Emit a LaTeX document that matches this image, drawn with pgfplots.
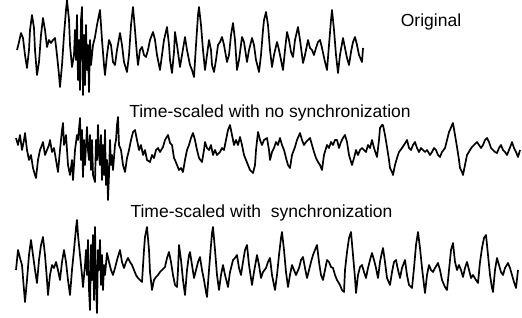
\documentclass[border=0pt]{standalone}
\usepackage{pgfplots}
\pgfplotsset{compat=1.18}
\usepackage{fontspec}
\setmainfont{Liberation Sans}
\begin{document}
\begin{tikzpicture}
\begin{axis}[
  at={(0,0)}, anchor=south west,
  width=522pt, height=317pt, scale only axis,
  xmin=0, xmax=522, ymin=0, ymax=317, y dir=reverse,
  axis lines=none, clip=false,
]
% Original
\addplot[black, line width=1.7pt, line join=round, mark=none] coordinates {
(17,50)(19,42)(21,33)(23,38)(25,55)(27,68)(29,50)(30,30)(32,15)(34,28)(35,50)(37,75)(39,62)(41,35)(43,18)(45,30)(47,47)(49,40)(51,43)(53,40)(55,38)(57,55)(59,75)(60,87)(62,65)(64,35)(66,10)(67,0)(69,20)(70,45)(72,67)(74,55)(75,30)(76,60)(77,15)(78,80)(79,40)(80,90)(81,20)(82,7)(83,95)(84,35)(85,85)(86,25)(87,70)(88,45)(89,92)(90,40)(91,65)(92,55)(93,45)(95,37)(97,25)(100,10)(102,40)(104,65)(105,75)(107,55)(109,40)(111,45)(113,62)(115,65)(117,50)(120,33)(122,45)(124,62)(127,72)(129,55)(131,25)(133,7)(135,30)(137,55)(138,65)(140,50)(142,47)(144,55)(146,57)(148,50)(150,40)(153,32)(155,40)(157,55)(160,70)(162,55)(164,40)(167,27)(169,45)(170,60)(172,73)(174,52)(175,32)(177,45)(180,67)(182,55)(185,37)(187,50)(190,65)(192,70)(194,77)(196,45)(198,15)(199,7)(201,25)(203,50)(205,70)(207,55)(209,40)(211,50)(212,65)(214,72)(216,60)(218,45)(220,42)(222,37)(224,45)(227,62)(229,55)(231,35)(233,23)(235,40)(237,70)(239,60)(242,37)(244,42)(247,62)(249,50)(252,38)(254,45)(256,60)(259,72)(261,55)(263,30)(264,20)(266,12)(268,25)(270,50)(272,67)(274,55)(277,42)(279,50)(281,60)(283,70)(285,50)(287,32)(289,40)(291,52)(293,57)(295,40)(298,27)(300,40)(303,63)(305,55)(308,40)(310,48)(312,50)(314,55)(316,48)(318,42)(320,40)(322,48)(325,62)(327,70)(329,45)(331,20)(332,10)(334,30)(336,55)(338,73)(340,55)(343,38)(345,48)(347,58)(349,65)(351,52)(353,42)(355,37)(357,45)(359,55)(362,62)(363,48)
};
% Time-scaled, no synchronization
\addplot[black, line width=1.7pt, line join=round, mark=none] coordinates {
(16,138)(18,145)(20,135)(22,150)(24,140)(25,133)(27,150)(29,160)(31,155)(33,168)(35,175)(36,178)(38,160)(40,150)(42,145)(43,142)(45,155)(47,150)(49,145)(50,140)(52,152)(54,148)(56,160)(58,172)(60,150)(62,130)(63,123)(64,145)(66,135)(68,165)(70,175)(72,160)(73,180)(75,150)(77,135)(78,140)(80,118)(81,160)(82,130)(83,177)(84,140)(85,165)(87,127)(88,150)(89,160)(90,135)(91,170)(92,140)(93,175)(95,182)(96,140)(97,160)(98,125)(99,155)(100,165)(101,135)(102,180)(103,145)(104,175)(105,130)(106,185)(107,160)(108,200)(109,175)(110,140)(111,165)(112,155)(113,170)(115,145)(116,140)(117,125)(118,117)(119,145)(121,150)(123,165)(125,172)(127,158)(129,150)(131,140)(133,132)(135,130)(137,140)(139,150)(141,145)(143,155)(145,150)(147,160)(150,162)(152,155)(154,158)(156,150)(158,148)(160,152)(163,147)(165,140)(168,135)(170,143)(172,145)(174,158)(175,160)(177,165)(179,170)(181,168)(183,172)(185,160)(187,150)(189,145)(191,138)(193,133)(195,140)(197,150)(199,158)(202,162)(204,150)(205,142)(207,148)(209,150)(211,145)(213,155)(215,150)(217,155)(220,152)(222,148)(224,150)(226,140)(228,130)(230,125)(232,135)(234,145)(236,140)(238,145)(240,137)(242,145)(244,155)(246,160)(248,165)(250,170)(253,173)(255,165)(256,150)(258,132)(260,140)(262,145)(264,140)(267,138)(269,150)(270,160)(272,152)(274,148)(276,142)(278,145)(280,138)(282,145)(284,150)(286,158)(288,165)(290,168)(292,155)(295,147)(297,140)(300,133)(302,140)(304,145)(306,142)(308,140)(310,138)(312,145)(314,152)(316,158)(318,162)(320,165)(322,170)(324,155)(327,145)(329,148)(331,142)(333,145)(335,140)(337,140)(339,148)(341,142)(343,138)(345,135)(347,142)(349,155)(352,165)(354,158)(356,150)(358,155)(360,150)(362,148)(364,150)(366,152)(368,145)(370,148)(372,140)(374,148)(377,157)(379,140)(380,128)(382,125)(383,125)(385,135)(387,147)(389,160)(390,168)(392,172)(393,175)(395,165)(397,158)(399,152)(402,148)(404,145)(407,140)(409,148)(411,150)(413,145)(415,142)(417,148)(419,152)(421,148)(423,150)(425,152)(427,150)(430,155)(432,152)(434,148)(436,150)(438,155)(440,157)(442,152)(445,148)(447,140)(449,132)(450,130)(452,125)(453,123)(455,135)(457,147)(459,160)(460,168)(462,172)(463,175)(465,165)(467,155)(470,150)(472,147)(474,145)(477,142)(479,145)(481,148)(483,145)(485,140)(487,138)(489,142)(491,148)(493,150)(495,152)(497,153)(499,148)(501,145)(503,150)(505,152)(507,155)(509,150)(511,145)(512,142)(514,148)(516,152)(518,157)(520,150)
};
% Time-scaled with synchronization
\addplot[black, line width=1.7pt, line join=round, mark=none] coordinates {
(16,270)(18,250)(20,258)(22,265)(24,290)(25,302)(27,280)(29,255)(31,240)(33,255)(35,270)(37,283)(39,260)(41,245)(43,237)(45,255)(47,280)(48,295)(50,275)(52,265)(54,268)(56,262)(58,270)(60,280)(62,262)(64,250)(66,262)(68,280)(70,295)(72,270)(74,250)(76,228)(77,220)(78,235)(80,255)(82,275)(83,287)(85,265)(86,250)(87,275)(88,240)(89,290)(90,310)(91,245)(92,280)(93,235)(94,300)(95,227)(96,285)(97,313)(98,250)(99,270)(100,240)(101,285)(102,255)(103,290)(104,265)(105,275)(107,253)(109,262)(111,270)(113,275)(115,268)(117,260)(120,250)(122,262)(124,268)(126,262)(128,258)(130,262)(132,265)(134,270)(136,275)(138,278)(140,280)(142,282)(144,250)(145,237)(147,227)(149,250)(150,272)(152,290)(154,280)(156,277)(158,275)(160,272)(162,270)(165,267)(167,258)(169,252)(171,262)(173,275)(175,285)(177,287)(178,270)(179,245)(181,260)(183,280)(185,295)(187,270)(189,255)(190,252)(192,265)(194,278)(196,270)(198,262)(200,257)(202,270)(204,280)(206,292)(207,297)(209,270)(211,245)(212,233)(213,227)(215,250)(217,275)(219,290)(221,275)(223,265)(225,275)(228,287)(230,272)(233,260)(235,258)(237,255)(239,268)(241,275)(243,262)(245,250)(247,245)(249,265)(252,285)(254,272)(257,255)(259,265)(261,278)(263,272)(266,268)(268,262)(270,258)(272,275)(275,290)(277,275)(279,255)(281,238)(282,232)(284,250)(286,272)(288,287)(290,275)(292,265)(294,270)(296,275)(299,268)(301,260)(303,257)(305,268)(307,278)(309,270)(311,262)(313,255)(315,250)(317,245)(319,262)(321,275)(323,280)(325,270)(327,260)(329,262)(331,267)(333,268)(335,275)(337,280)(340,285)(342,290)(344,292)(345,270)(347,252)(349,238)(351,232)(353,255)(355,278)(356,293)(358,275)(360,267)(362,265)(364,272)(366,278)(368,268)(370,260)(372,253)(374,260)(376,268)(378,278)(380,262)(382,252)(383,248)(385,262)(387,278)(390,285)(392,272)(394,262)(396,260)(398,270)(400,278)(402,268)(405,260)(407,275)(409,285)(412,288)(414,268)(416,245)(418,232)(420,248)(422,268)(424,285)(425,293)(427,275)(429,265)(431,270)(433,272)(435,268)(438,263)(440,270)(442,280)(445,287)(447,290)(449,270)(451,250)(453,243)(455,262)(457,270)(459,265)(461,270)(463,277)(465,268)(467,262)(469,270)(471,278)(473,275)(476,280)(478,283)(480,262)(482,248)(484,238)(486,235)(488,255)(490,275)(492,288)(493,292)(495,270)(497,258)(499,265)(501,272)(503,275)(505,268)(508,263)(510,268)(512,275)(514,282)(516,288)(518,270)
};
\node[anchor=base, inner sep=0pt, font=\fontsize{17.5}{20}\selectfont] at (axis cs:431,26) {Original};
\node[anchor=base, inner sep=0pt, font=\fontsize{17.5}{20}\selectfont] at (axis cs:270,117) {Time-scaled with no synchronization};
\node[anchor=base, inner sep=0pt, font=\fontsize{17.5}{20}\selectfont] at (axis cs:261.5,217) {Time-scaled with\ \ synchronization};
\end{axis}
\pgfresetboundingbox
\path[use as bounding box] (0,0) rectangle (522pt,317pt);
\end{tikzpicture}
\end{document}
